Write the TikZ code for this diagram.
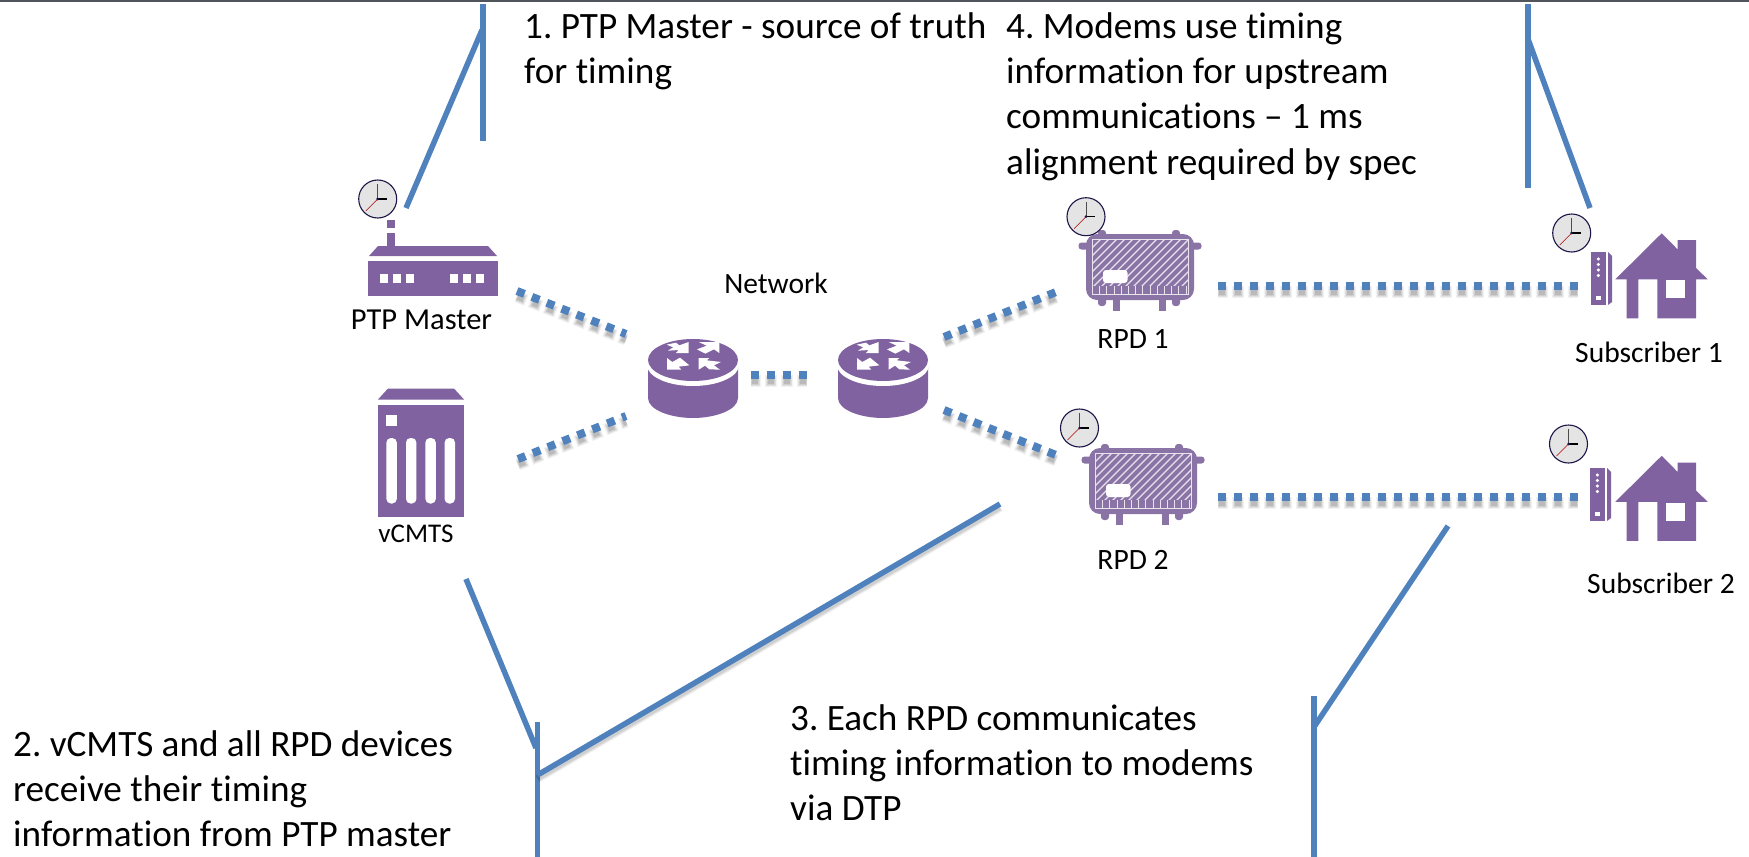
\documentclass[tikz,border=0pt]{standalone}
\usepackage{fontspec}
\setmainfont[Ligatures=NoCommon]{Carlito}
\definecolor{purp}{HTML}{8062A0}
\definecolor{rpdc}{HTML}{8A74A6}
\definecolor{lnk}{HTML}{4F81BD}
\definecolor{clk}{HTML}{E4E4E4}
\definecolor{clkr}{HTML}{1B1548}
\definecolor{topbar}{HTML}{50555B}
\tikzset{
 callout/.style={draw=lnk,line width=5.5pt},
 big/.style={font=\fontsize{37.2}{45.4}\selectfont,align=left,inner sep=0pt},
 small/.style={font=\fontsize{29.5}{34}\selectfont,inner sep=0pt},
 ic/.style={fill=purp,draw=none},
 rp/.style={fill=rpdc,draw=none},
 wh/.style={fill=white,draw=none},
 dotl/.style={draw=lnk,line width=8pt,dash pattern=on 8pt off 8pt}
}
\newcommand{\dotted}[2]{%
 \foreach \w/\o in {12/0.05,10/0.07,8/0.08,6/0.10}{%
  \pgfmathsetmacro{\gp}{16-\w}\pgfmathsetmacro{\ph}{(\w-8)/2}%
  \draw[black,opacity=\o,line width=\w pt,dash pattern=on \w pt off \gp pt,dash phase=\ph pt] ([yshift=-5.5pt]#1) -- ([yshift=-5.5pt]#2);}
 \draw[dotl] (#1) -- (#2);}
\newcommand{\clock}[3]{% name x y
 \node[circle,draw=clkr,fill=clk,line width=1.1pt,minimum size=38pt,inner sep=0pt] (#1) at (#2,#3) {};
 \begin{scope}[shift={(#2,#3)}]
 \draw[red!70!black,line width=.5pt] (0,0) -- (-12,12);
 \draw[black!70,line width=1pt] (0,0) -- (0,-15);
 \draw[black,line width=1.3pt] (0,0) -- (9,0);
 \fill[clkr] (0,0) circle (1.5);
 \end{scope}}
\newcommand{\router}[3]{% name cx cy(top ellipse)
 \begin{scope}[shift={(#2,#3)}]
 \coordinate (#1) at (0,0);
 \fill[ic] (-45,4) -- (-45,38) .. controls (-45,50) and (-22,58) .. (0,58) .. controls (22,58) and (45,50) .. (45,38) -- (45,4) -- cycle;
 \fill[wh] (0,5) ellipse (46 and 21);
 \fill[ic] (0,0) ellipse (45 and 21);
 \begin{scope}[shift={(-53,-30)},scale=1/3]
 \fill[wh] (80,44) -- (108,38) -- (118,46) -- (146,36) -- (146,69) -- (108,69) -- (116,60) -- (84,62) -- (100,52) -- cycle;
 \fill[wh] (238,36) -- (238,69) -- (222,58) -- (196,71) -- (171,58) -- (200,47) -- (176,36) -- cycle;
 \fill[wh] (81,84) -- (97,96) -- (120,83) -- (148,106) -- (116,110) -- (124,119) -- (81,119) -- cycle;
 \fill[wh] (176,84) -- (208,84) -- (200,91) -- (243,96) -- (222,106) -- (240,119) -- (208,118) -- (195,107) -- (176,119) -- cycle;
 \end{scope}
 \end{scope}}
\newcommand{\rpd}[3]{% name x y (top-left of body)
 \begin{scope}[shift={(#2,#3)}]
 \coordinate (#1) at (54,33);
 \fill[rp,rounded corners=3pt] (-7.5,8.5) rectangle (4,15.5);
 \fill[rp,rounded corners=3pt] (104,8.5) rectangle (115.5,15.5);
 \foreach \xx in {16,90}{\fill[rp,rounded corners=3pt] (\xx-4,-4) rectangle ++(8,10);\fill[rp,rounded corners=3pt] (\xx-4,60) rectangle ++(8,12);}
 \foreach \xx in {30,76}{\fill[rp] (\xx-3.5,60) rectangle ++(7.5,17);}
 \fill[rp,rounded corners=11pt] (0,0) rectangle (108,66);
 \begin{scope}
 \clip (6,5) rectangle (102,60);
 \foreach \k in {0,...,21}{\draw[white!80!rpdc,line width=1.1pt] (\k*8-40,60) -- ++(60,-60);}
 \end{scope}
 \fill[rp] (6,52) rectangle (102,60);
 \foreach \k in {0,...,13}{\draw[white!80!rpdc,line width=1.1pt] (6.5+\k*7.2,52) -- ++(0,8);}
 \draw[white!80!rpdc,line width=1pt] (6,5) rectangle (102,60);
 \fill[wh,rounded corners=3pt] (17,36) rectangle (41.5,49);
 \end{scope}}
\newcommand{\modem}[3]{%
 \begin{scope}[shift={(#2,#3)}]
 \coordinate (#1) at (1598,278);
 \fill[ic] (1591,252) rectangle (1606,305);
 \fill[ic] (1608,252) -- (1612,256) -- (1612,302) -- (1608,305) -- cycle;
 \foreach \yy in {259,264.5,270,275.5}{\fill[wh] (1598.3,\yy) circle (1.7);}
 \fill[wh] (1596,295.5) rectangle (1600.5,300);
 \end{scope}}
\newcommand{\house}[3]{%
 \begin{scope}[shift={(#2,#3)}]
 \coordinate (#1) at (1650,280);
 \fill[ic] (1661.7,233.3) -- (1677.7,249.5) -- (1677.7,240) -- (1696,240) -- (1696,268) -- (1707.7,279.3) -- (1696,279.3) -- (1696,318.3) -- (1657.3,318.3) -- (1657.3,279.3) -- (1638.3,279.3) -- (1638.3,318.3) -- (1626.7,318.3) -- (1626.7,279.3) -- (1615.3,279.3) -- cycle;
 \fill[wh] (1666,280) rectangle (1685,298.3);
 \end{scope}}
\begin{document}
\begin{tikzpicture}[x=1pt,y=-1pt]
\useasboundingbox (0,0) rectangle (1749,857);
\frenchspacing
\fill[topbar] (0,0) rectangle (1749,2);
% callouts
\coordinate (c1a) at (483,4); \coordinate (c1b) at (483,141); \coordinate (c1k) at (482,30); \coordinate (c1e) at (406,208);
\draw[callout] (c1a) -- (c1b);
\draw[callout] (c1e) -- (c1k);
\coordinate (c4a) at (1528,4); \coordinate (c4b) at (1528,188); \coordinate (c4k) at (1528,39); \coordinate (c4e) at (1590,208);
\draw[callout] (c4a) -- (c4b);
\draw[callout] (c4e) -- (c4k);
\coordinate (c2a) at (537.5,722); \coordinate (c2b) at (537.5,857); \coordinate (c2k) at (537.5,775); \coordinate (c2e) at (1000,504); \coordinate (c2f) at (466,579); \coordinate (c2j) at (536,748);
\draw[callout] (c2a) -- (c2b);
\draw[callout] (c2f) -- (c2j);
\foreach \w/\o in {9/0.05,7/0.07,5/0.08}{\draw[black,opacity=\o,line width=\w pt] ([yshift=-3.5pt]c2k) -- ([yshift=-3.5pt]c2e);}
\draw[callout] (c2k) -- (c2e);
\coordinate (c3a) at (1314,696); \coordinate (c3b) at (1314,857); \coordinate (c3k) at (1314,727); \coordinate (c3e) at (1448,526);
\draw[callout] (c3a) -- (c3b);
\draw[callout] (c3k) -- (c3e);
% PTP master
\fill[ic] (368,261) rectangle (498,296);
\fill[ic] (369,256) -- (378,246) -- (488,246) -- (497,256) -- cycle;
\fill[ic] (386.5,233) rectangle (395,246);
\fill[ic] (386.5,220) rectangle (395,228);
\foreach \xx in {380.3,393.3,405.7,449.7,462.7,475.7}{\fill[wh] (\xx,274.3) rectangle ++(8,8.3);}
\clock{clkA}{377.7}{199}
\node[small,font=\fontsize{30.5}{34}\selectfont] (ptp) at (421.5,320) {PTP Master};
% vCMTS
\begin{scope}[shift={(0,-4.5)}]
\fill[ic] (378,409) rectangle (464,521);
\fill[ic] (378,404) -- (388,393) -- (454,393) -- (464,404) -- cycle;
\fill[wh] (386.4,419) rectangle (397,430);
\foreach \xx in {386.4,406,425.4,444.6}{\fill[wh,rounded corners=4.5pt] (\xx,442.5) rectangle ++(10.4,65.5);}
\end{scope}
\node[small,font=\fontsize{27}{34}\selectfont] (vc) at (416,534) {vCMTS};
% routers
\router{rA}{693}{360}
\router{rB}{883}{360}
\node[small] (net) at (776,283) {Network};
% RPD
\rpd{rpdA}{1086}{234}
\clock{clkB}{1086}{216.7}
\node[small] (l1) at (1133,339) {RPD 1};
\rpd{rpdB}{1089}{448}
\clock{clkC}{1079.5}{428}
\node[small] (l2) at (1133,560) {RPD 2};
% subscribers
\modem{mA}{0}{0}
\house{hA}{0}{0}
\clock{clkD}{1571.7}{233}
\node[small] (s1) at (1649,352.7) {Subscriber 1};
\modem{mB}{-1}{216}
\house{hB}{0}{222.5}
\clock{clkE}{1568.5}{444}
\node[small] (s2) at (1661,583) {Subscriber 2};
% dotted connectors
\coordinate (d1a) at (517,291); \coordinate (d1b) at (626,334);
\coordinate (d2a) at (518,459); \coordinate (d2b) at (626,416);
\coordinate (d3a) at (751,375); \coordinate (d3b) at (807,375);
\coordinate (d4a) at (944,337); \coordinate (d4b) at (1056,292);
\coordinate (d5a) at (944,410); \coordinate (d5b) at (1056,455);
\coordinate (d6a) at (1218,286); \coordinate (d6b) at (1578,286);
\coordinate (d7a) at (1218,497); \coordinate (d7b) at (1578,497);
\dotted{d1a}{d1b}
\dotted{d2a}{d2b}
\dotted{d3a}{d3b}
\dotted{d4a}{d4b}
\dotted{d5a}{d5b}
\dotted{d6a}{d6b}
\dotted{d7a}{d7b}
% text
\node[big,anchor=north west] (t1) at (524,12) {1. PTP Master - source of truth\\for timing};
\node[big,anchor=north west] (t4) at (1006,12) {4. Modems use timing\\information for upstream\\communications – 1 ms\\alignment required by spec};
\node[big,anchor=north west] (t2) at (13,730) {2. vCMTS and all RPD devices\\receive their timing\\information from PTP master};
\node[big,anchor=north west] (t3) at (790,704) {3. Each RPD communicates\\timing information to modems\\via DTP};
\end{tikzpicture}
\end{document}
